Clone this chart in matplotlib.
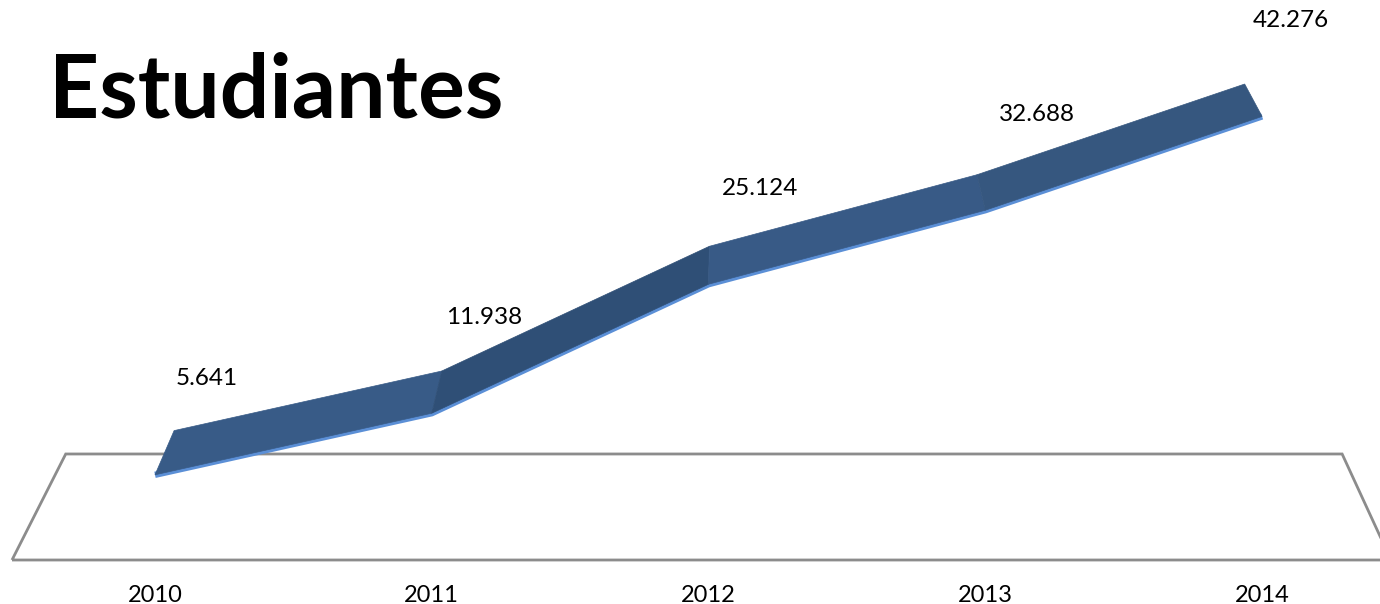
import numpy as np
import matplotlib
matplotlib.use("Agg")
import matplotlib.pyplot as plt
from matplotlib.patches import Polygon

# ---- data ----
years = ["2010", "2011", "2012", "2013", "2014"]
students = [5641, 11938, 25124, 32688, 42276]
value_labels = ["5.641", "11.938", "25.124", "32.688", "42.276"]
title = "Estudiantes"

# ---- styles ----
seg_colors = ["#385B87", "#2F4F76", "#385A86", "#36577F"]
edge_color = "#5B8FD6"
floor_color = "#8C8C8C"
FONT = "Lato"

W, H, DPI = 1380, 604, 100
fig = plt.figure(figsize=(W / DPI, H / DPI), dpi=DPI)
ax = fig.add_axes([0, 0, 1, 1])
ax.set_axis_off()
ax.set_xlim(-0.56, 4.426)
ax.set_ylim(-7564, 54176)

# perspective model (vanishing point in axes fraction)
vp_axes = np.array([0.532, 2.432])
fig.canvas.draw()
vp = ax.transAxes.transform(vp_axes)
s_ribbon = 0.967   # depth scale of ribbon back edge
s_floor = 0.9256   # depth scale of floor back edge

def depth(pts_disp, s):
    return vp + (pts_disp - vp) * s

inv = ax.transData.inverted()

# ---- floor ----
floor_front_y = 1 - 560 / H
fl = ax.transAxes.transform([(12 / W, floor_front_y), (1391 / W, floor_front_y)])
fb = depth(fl, s_floor)
floor_pts = np.array([fl[0], fb[0], fb[1], fl[1]])
ax.add_patch(Polygon(inv.transform(floor_pts), closed=True, fill=False,
                     edgecolor=floor_color, linewidth=2.0, zorder=1,
                     clip_on=False))

# ---- ribbon ----
x = np.arange(len(years))
front = ax.transData.transform(np.column_stack([x, students]))
back = depth(front, s_ribbon)

ax.plot(x, students, color=edge_color, linewidth=4.6, zorder=2,
        solid_capstyle="butt", solid_joinstyle="miter")
for i in range(len(x) - 1):
    poly = np.array([front[i], front[i + 1], back[i + 1], back[i]])
    ax.add_patch(Polygon(inv.transform(poly), closed=True,
                         facecolor=seg_colors[i], edgecolor=seg_colors[i],
                         linewidth=0.5, zorder=3))

# ---- value labels ----
for i, lab in enumerate(value_labels):
    px, py = front[i] + np.array([52, 96])
    px = min(px, W - 89)
    tx, ty = inv.transform((px, py))
    ax.text(tx, ty, lab, ha="center", va="center", fontsize=17.5,
            family=FONT, color="#000000", zorder=5)

# ---- category labels ----
tick_y = inv.transform((0, H - 596))[1]
for i, yr in enumerate(years):
    ax.text(x[i], tick_y, yr, ha="center", va="center", fontsize=17,
            family=FONT, color="#000000")

# ---- title ----
ax.text(49 / W, 1 - 117 / H, title, transform=ax.transAxes, ha="left",
        va="baseline", fontsize=63, fontweight="bold", family=FONT,
        color="#000000")

fig.savefig("out.png", dpi=DPI)
